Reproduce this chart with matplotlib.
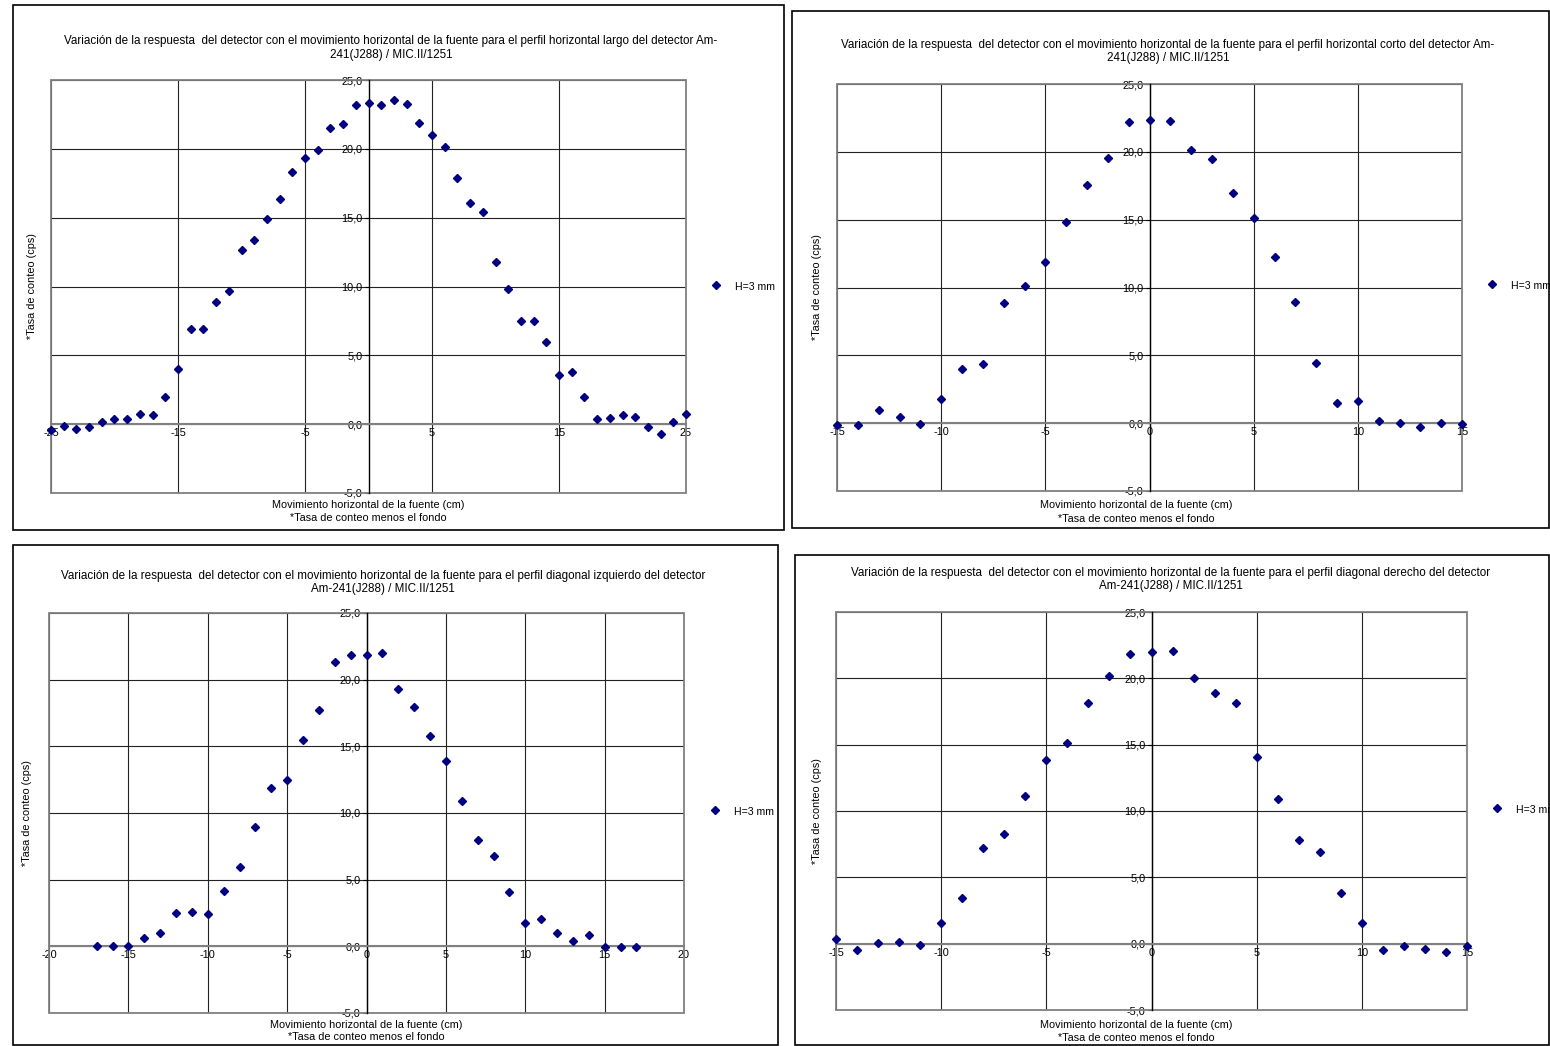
import matplotlib
matplotlib.use("Agg")
import matplotlib.pyplot as plt
from matplotlib.patches import Rectangle

plt.rcParams['font.family'] = ['Liberation Sans', 'DejaVu Sans']
plt.rcParams['axes.unicode_minus'] = False

W, H = 1550, 1046

# source position (cm) and count rate (cps) for each profile
x_largo = list(range(-25, 26))
y_largo = [-0.44, -0.10, -0.36, -0.22, 0.19, 0.34, 0.41, 0.75, 0.65, 1.94,
           4.00, 6.92, 6.92, 8.89, 9.64, 12.64, 13.39, 14.87, 16.39, 18.33,
           19.37, 19.93, 21.53, 21.82, 23.20, 23.34, 23.22, 23.56, 23.27, 21.86,
           20.97, 20.12, 17.85, 16.03, 15.40, 11.79, 9.83, 7.48, 7.48, 6.00,
           3.58, 3.80, 1.99, 0.39, 0.46, 0.68, 0.53, -0.17, -0.73, 0.17, 0.73]

x_corto = list(range(-15, 16))
y_corto = [-0.15, -0.15, 0.98, 0.49, -0.07, 1.81, 3.97, 4.34, 8.88, 10.13,
           11.87, 14.82, 17.54, 19.58, 22.23, 22.37, 22.30, 20.10, 19.50, 16.98,
           15.09, 12.22, 8.93, 4.47, 1.47, 1.62, 0.15, 0.00, -0.29, 0.00, -0.07]

x_izq = list(range(-17, 18))
y_izq = [0.0, 0.0, 0.0, 0.6, 1.0, 2.5, 2.58, 2.45, 4.13, 5.98,
         8.93, 11.85, 12.45, 15.48, 17.70, 21.30, 21.83, 21.88, 22.00, 19.28,
         17.95, 15.80, 13.88, 10.88, 8.00, 6.75, 4.05, 1.78, 2.03, 1.00,
         0.40, 0.85, -0.08, -0.08, -0.08]

x_der = list(range(-15, 16))
y_der = [0.38, -0.50, 0.08, 0.13, -0.08, 1.55, 3.43, 7.22, 8.27, 11.15,
         13.83, 15.16, 18.12, 20.15, 21.85, 21.98, 22.08, 20.00, 18.87, 18.12,
         14.04, 10.89, 7.80, 6.94, 3.81, 1.55, -0.50, -0.15, -0.43, -0.63, -0.20]

titulos = [
    ("Variación de la respuesta  del detector con el movimiento horizontal de la fuente para el perfil horizontal largo del detector Am-",
     "241(J288) / MIC.II/1251"),
    ("Variación de la respuesta  del detector con el movimiento horizontal de la fuente para el perfil horizontal corto del detector Am-",
     "241(J288) / MIC.II/1251"),
    ("Variación de la respuesta  del detector con el movimiento horizontal de la fuente para el perfil diagonal izquierdo del detector",
     "Am-241(J288) / MIC.II/1251"),
    ("Variación de la respuesta  del detector con el movimiento horizontal de la fuente para el perfil diagonal derecho del detector",
     "Am-241(J288) / MIC.II/1251"),
]

xticks_list = [[-25, -15, -5, 5, 15, 25],
               [-15, -10, -5, 0, 5, 10, 15],
               [-20, -15, -10, -5, 0, 5, 10, 15, 20],
               [-15, -10, -5, 0, 5, 10, 15]]
xlims = [(-25, 25), (-15, 15), (-20, 20), (-15, 15)]
yticks = [-5, 0, 5, 10, 15, 20, 25]
ytick_labels = ["-5,0", "0,0", "5,0", "10,0", "15,0", "20,0", "25,0"]

# layout in pixels: plot box (l, r, t, b), chart frame (l, r, t, b),
# title line y, ylabel x, xlabel center x / y, legend (x, y)
layout = [
    dict(plot=(51, 686, 80, 493), frame=(13, 784, 5, 530), tx=391, ty=(41, 55),
         ylx=32, xlx=368, xly=(505, 518), leg=(716, 285)),
    dict(plot=(837, 1462, 84, 491), frame=(792, 1549, 11, 528), tx=1168, ty=(45, 58),
         ylx=817, xlx=1136, xly=(505, 519), leg=(1492, 284)),
    dict(plot=(49, 684, 613, 1013), frame=(13, 778, 545, 1045), tx=383, ty=(576, 589),
         ylx=27, xlx=366, xly=(1025, 1037), leg=(715, 810)),
    dict(plot=(836, 1467, 612, 1010), frame=(795, 1549, 555, 1045), tx=1171, ty=(573, 586),
         ylx=817, xlx=1136, xly=(1025, 1038), leg=(1497, 808)),
]

series = [(x_largo, y_largo), (x_corto, y_corto), (x_izq, y_izq), (x_der, y_der)]

fig = plt.figure(figsize=(W / 100, H / 100), dpi=100)

FS_TITLE = 8.4
FS_LABEL = 7.8
FS_TICK = 7.8
MS = 4.0
for i, ((xs, ys), lay) in enumerate(zip(series, layout)):
    fl, fr, ft, fb = lay['frame']
    fig.add_artist(Rectangle((fl / W, 1 - fb / H), (fr - fl) / W, (fb - ft) / H,
                             transform=fig.transFigure, fill=False, ec='black', lw=1.2))

    l, r, t, b = lay['plot']
    ax = fig.add_axes([l / W, 1 - b / H, (r - l) / W, (b - t) / H])
    ax.plot(xs, ys, linestyle='none', marker='D', markersize=MS, color='#000080',
            zorder=5, clip_on=False)
    ax.set_xlim(*xlims[i])
    ax.set_ylim(-5, 25)

    ax.set_xticks(xticks_list[i])
    ax.set_yticks(yticks)
    ax.set_yticklabels(ytick_labels)
    ax.grid(True, color='#222222', linewidth=0.8, zorder=1)

    ax.spines['left'].set_position(('data', 0))
    ax.spines['bottom'].set_position(('data', 0))
    ax.spines['left'].set_color('black')
    ax.spines['left'].set_linewidth(1.0)
    ax.spines['bottom'].set_color('#808080')
    ax.spines['bottom'].set_linewidth(1.5)
    ax.spines['top'].set_visible(False)
    ax.spines['right'].set_visible(False)
    ax.add_patch(Rectangle((0, 0), 1, 1, transform=ax.transAxes, fill=False,
                           ec='#808080', lw=1.3, zorder=2, clip_on=False))

    ax.tick_params(axis='y', direction='out', length=3, width=0.8, pad=1.5,
                   labelsize=FS_TICK, colors='black')
    ax.tick_params(axis='x', length=0, pad=3, labelsize=FS_TICK, colors='black')

    fig.text(lay['tx'] / W, 1 - lay['ty'][0] / H, titulos[i][0], ha='center',
             va='center', fontsize=FS_TITLE)
    fig.text(lay['tx'] / W, 1 - lay['ty'][1] / H, titulos[i][1], ha='center',
             va='center', fontsize=FS_TITLE)

    fig.text(lay['ylx'] / W, 1 - ((t + b) / 2) / H, "*Tasa de conteo (cps)",
             rotation=90, ha='center', va='center', fontsize=FS_LABEL)
    fig.text(lay['xlx'] / W, 1 - lay['xly'][0] / H,
             "Movimiento horizontal de la fuente (cm)", ha='center', va='center',
             fontsize=FS_LABEL)
    fig.text(lay['xlx'] / W, 1 - lay['xly'][1] / H,
             "*Tasa de conteo menos el fondo", ha='center', va='center', fontsize=FS_LABEL)

    lx, ly = lay['leg']
    fig.add_artist(plt.Line2D([lx / W], [1 - ly / H], transform=fig.transFigure,
                              linestyle='none', marker='D', markersize=MS, color='#000080'))
    fig.text((lx + 19) / W, 1 - (ly + 2) / H, "H=3 mm", ha='left', va='center',
             fontsize=7.6)

fig.savefig("out.png", dpi=100)
